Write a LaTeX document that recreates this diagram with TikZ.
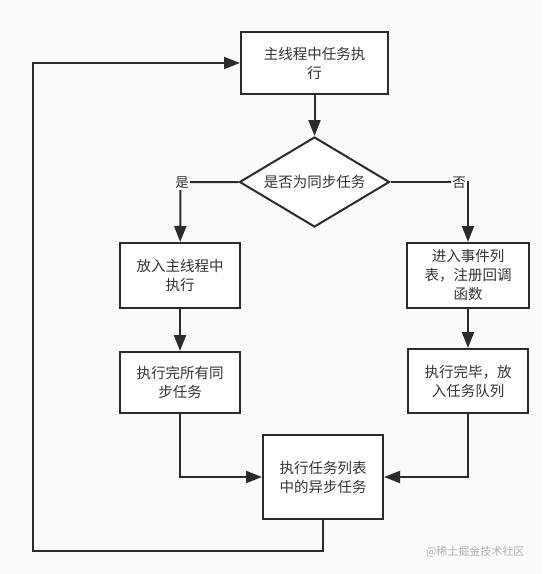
\documentclass[tikz,border=0pt]{standalone}
\usepackage{fontspec}
\newfontfamily\cjk{Noto Sans CJK SC}
\usetikzlibrary{arrows.meta,shapes.geometric}
\definecolor{bg}{HTML}{FAFAFA}
\definecolor{ln}{HTML}{2B2B2B}
\definecolor{tx}{HTML}{333333}
\tikzset{
  box/.style={draw=ln, line width=2pt, fill=white, inner sep=0pt, align=center,
    text=tx, font=\cjk\fontsize{14.5}{19}\selectfont},
  dia/.style={draw=ln, line width=2pt, fill=white, shape=diamond, inner sep=0pt,
    minimum width=150pt, minimum height=90pt, aspect=1.67, text=tx,
    font=\cjk\fontsize{14.5}{19}\selectfont},
  conn/.style={draw=ln, line width=2pt, -{Triangle[length=16pt,width=12pt]}},
  plain/.style={draw=ln, line width=2pt},
  lbl/.style={fill=bg, inner sep=1pt, text=tx, font=\cjk\fontsize{13.5}{15}\selectfont},
}
\begin{document}
\begin{tikzpicture}[x=1pt,y=-1pt]
\fill[bg] (0,0) rectangle (542,574);
\useasboundingbox (0,0) rectangle (542,574);
\node[box, minimum width=147pt, minimum height=62pt] (top) at (314.5,63) {主线程中任务执\\行};
\node[dia] (d) at (314.5,182) {是否为同步任务};
\node[box, minimum width=120pt, minimum height=65pt] (l1) at (180,275.5) {放入主线程中\\执行};
\node[box, minimum width=120pt, minimum height=61pt] (l2) at (180,382.5) {执行完所有同\\步任务};
\node[box, minimum width=122pt, minimum height=65pt] (r1) at (468,275.5) {进入事件列\\表，注册回调\\函数};
\node[box, minimum width=120pt, minimum height=64pt] (r2) at (468,381) {执行完毕，放\\入任务队列};
\node[box, minimum width=120pt, minimum height=84pt] (b) at (323,477) {执行任务列表\\中的异步任务};
\coordinate (cl) at (180.5,182);
\coordinate (cr) at (468,182);
\coordinate (bl) at (323,551);
\coordinate (bll) at (33,551);
\coordinate (tll) at (33,63);
\draw[conn] (top) -- (d);
\draw[conn] (d.west) -- (cl) -- (l1);
\draw[conn] (d.east) -- (cr) -- (r1);
\draw[conn] (l1) -- (l2);
\draw[conn] (r1) -- (r2);
\draw[conn] (l2.south) |- (b.west);
\draw[conn] (r2.south) |- (b.east);
\draw[conn] (b.south) -- (bl) -- (bll) -- (tll) -- (top.west);
\node[lbl] (yes) at (182,183) {是};
\node[lbl] (no) at (459,183) {否};
\node[text=black!30, font=\cjk\fontsize{11}{13}\selectfont, anchor=east] (wm) at (528,552) {@稀土掘金技术社区};
\end{tikzpicture}
\end{document}
